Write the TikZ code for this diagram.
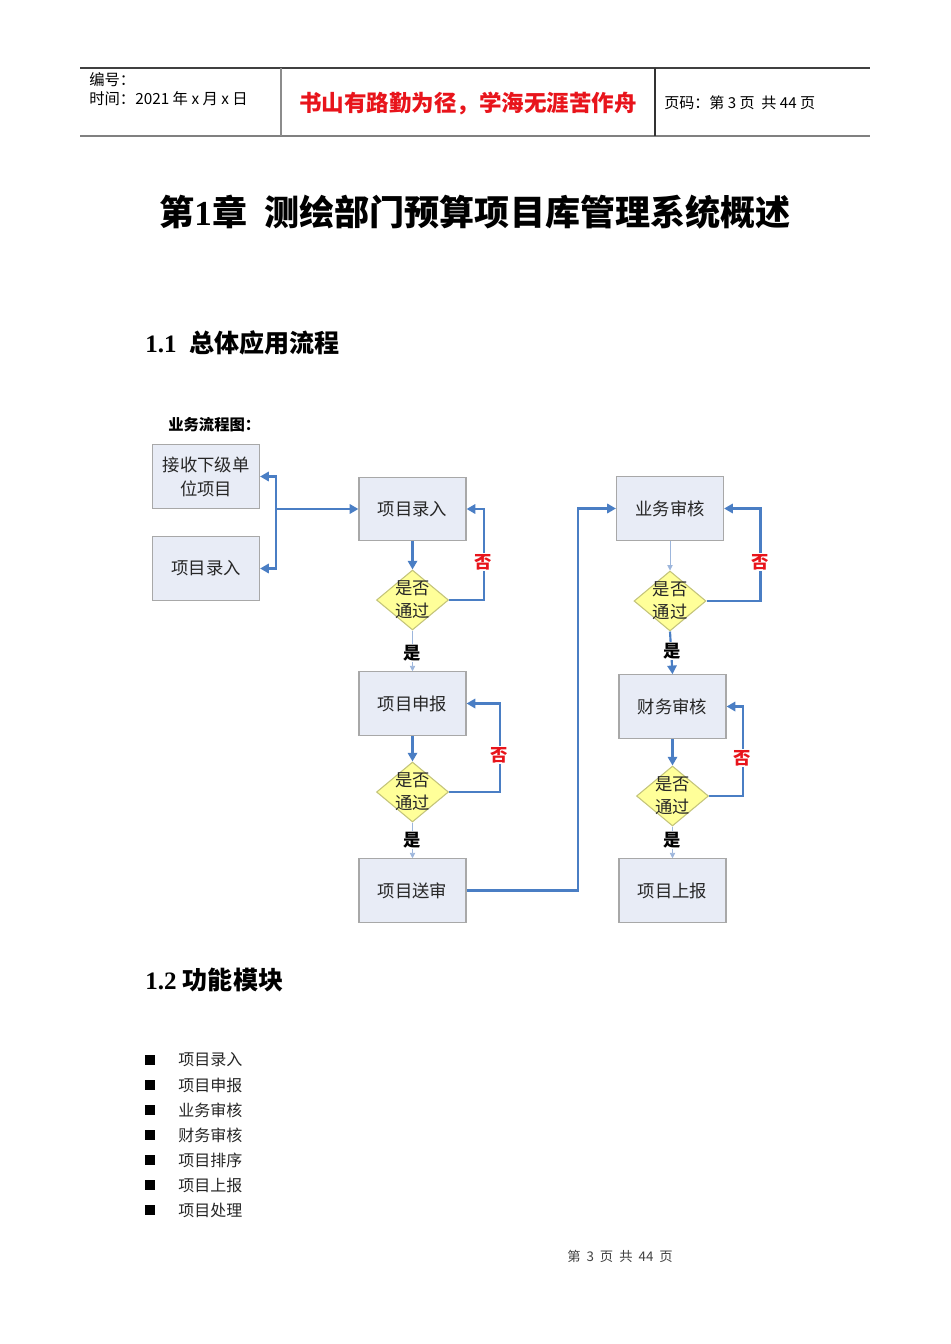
\documentclass[tikz,border=0pt]{standalone}
\usepackage{fontspec}
\setmainfont{Liberation Serif}
\newfontfamily\cjk{Noto Sans CJK SC}
\usetikzlibrary{shapes.geometric,arrows.meta}
\definecolor{boxfill}{HTML}{E8ECF6}
\definecolor{boxline}{HTML}{A8A8A8}
\definecolor{dfill}{HTML}{FFFF99}
\definecolor{dline}{HTML}{C4C47A}
\definecolor{flow}{HTML}{4A7EC4}
\definecolor{thinflow}{HTML}{9DB6DC}
\definecolor{redtxt}{HTML}{E8141B}
\tikzset{
  box/.style={draw=boxline, fill=boxfill, line width=0.9pt, minimum width=80.25pt, minimum height=47.5pt, inner sep=0pt, align=center, font=\cjk\fontsize{13}{18}\selectfont, text=black!85},
  dia/.style={draw=dline, fill=dfill, line width=0.8pt, shape=diamond, minimum width=54pt, minimum height=45pt, inner sep=0pt},
  dtext/.style={align=center, font=\cjk\fontsize{13}{17}\selectfont, text=black!85},
  arr/.style={draw=flow, line width=1.6pt, -{Triangle[width=7pt,length=6.5pt]}},
  thinarr/.style={draw=thinflow, line width=0.6pt, -{Triangle[width=4pt,length=4pt]}},
  nolab/.style={fill=white, inner sep=1pt, text=redtxt, font=\cjk\bfseries\fontsize{13}{15}\selectfont},
  yeslab/.style={fill=white, inner sep=1pt, text=black, font=\cjk\bfseries\fontsize{13}{15}\selectfont},
  bullettxt/.style={anchor=west, inner sep=0pt, font=\cjk\fontsize{12}{14}\selectfont, text=black!85},
  bsq/.style={fill=black, minimum size=7pt, inner sep=0pt}
}
\begin{document}
\begin{tikzpicture}[x=0.75pt,y=-0.75pt]
\useasboundingbox (0,0) rectangle (950,1344);
% header
\draw[black!75, line width=0.8pt] (80,68) coordinate (hl) -- (870,68) coordinate (hr);
\draw[black!50, line width=1.5pt] (80,136) coordinate (bl) -- (870,136) coordinate (br);
\draw[black!45, line width=1.4pt] (281,68) coordinate (v1t) -- (281,136) coordinate (v1b);
\draw[black!80, line width=0.8pt] (655,68) coordinate (v2t) -- (655,136) coordinate (v2b);
\node[anchor=west, inner sep=0pt, font=\cjk\fontsize{11.5}{13}\selectfont] (h1) at (89,80) {编号：};
\node[anchor=west, inner sep=0pt, font=\cjk\fontsize{11.5}{13}\selectfont] (h2) at (89,99) {时间：2021\ 年\ x\ 月\ x\ 日};
\node[inner sep=0pt, text=redtxt, font=\cjk\bfseries\fontsize{16.9}{19}\selectfont] (motto) at (468,104) {书山有路勤为径，学海无涯苦作舟};
\node[anchor=west, inner sep=0pt, font=\cjk\fontsize{11.3}{13}\selectfont] (h3) at (664,103) {页码：第\ 3\ 页\ \ 共\ 44\ 页};
% title
\node[inner sep=0pt, font=\bfseries\fontsize{26.3}{30}\selectfont] (title) at (475,212) {{\cjk 第}1{\cjk 章}\ \ {\cjk 测绘部门预算项目库管理系统概述}};
\node[anchor=west, inner sep=0pt, font=\bfseries\fontsize{18.8}{22}\selectfont] (s11) at (145,343) {1.1\ \ {\cjk 总体应用流程}};
\node[anchor=west, inner sep=0pt, font=\cjk\bfseries\fontsize{11.5}{14}\selectfont] (lbl) at (168,425) {业务流程图：};
% boxes
\node[box] (recv) at (206,476.5) {接收下级单\\位项目};
\node[box] (lentry) at (206,568.5) {项目录入};
\node[box] (entry) at (412.5,509) {项目录入};
\node[box] (decl) at (412.5,703.5) {项目申报};
\node[box] (send) at (412.5,890.5) {项目送审};
\node[box] (biz) at (670,508.5) {业务审核};
\node[box] (fin) at (672.5,706.5) {财务审核};
\node[box] (rep) at (672.5,890.5) {项目上报};
% diamonds
\node[dia] (d1) at (412.5,600) {};
\node[dtext] (t1) at (d1) {是否\\通过};
\node[dia] (d2) at (412.5,792) {};
\node[dtext] (t2) at (d2) {是否\\通过};
\node[dia] (d3) at (670,601) {};
\node[dtext] (t3) at (d3) {是否\\通过};
\node[dia] (d4) at (672.5,796) {};
\node[dtext] (t4) at (d4) {是否\\通过};
% left junction
\coordinate (jm) at (276,509);
\draw[arr] (jm) |- (recv.east);
\draw[arr] (jm) |- (lentry.east);
\draw[arr] (jm) -- (entry.west);
% column 1
\draw[arr] (entry.south) -- (d1.north);
\draw[arr] (d1.east) -- ++(35,0) |- (entry.east);
\node[nolab] (n1) at (483,562) {否};
\draw[thinarr] (d1.south) -- (decl.north);
\node[yeslab] (y1) at (412.5,653) {是};
\draw[arr] (decl.south) -- (d2.north);
\draw[arr] (d2.east) -- ++(51,0) |- (decl.east);
\node[nolab] (n2) at (499,755) {否};
\draw[thinarr] (d2.south) -- (send.north);
\node[yeslab] (y2) at (412.5,840) {是};
\draw[arr] (send.east) -- ++(111,0) |- (biz.west);
% column 2
\draw[thinarr] (biz.south) -- (d3.north);
\draw[arr] (d3.east) -- ++(54,0) |- (biz.east);
\node[nolab] (n3) at (760,562) {否};
\draw[arr] (d3.south) -- (fin.north);
\node[yeslab] (y3) at (672.5,651) {是};
\draw[arr] (fin.south) -- (d4.north);
\draw[arr] (d4.east) -- ++(34,0) |- (fin.east);
\node[nolab] (n4) at (742,758) {否};
\draw[thinarr] (d4.south) -- (rep.north);
\node[yeslab] (y4) at (672.5,840) {是};
% section 1.2
\node[anchor=west, inner sep=0pt, font=\bfseries\fontsize{18.8}{22}\selectfont] (s12) at (145,980) {1.2 {\cjk 功能模块}};
\foreach \t [count=\i from 0] in {项目录入,项目申报,业务审核,财务审核,项目排序,项目上报,项目处理} {
  \node[bsq] (sq\i) at (150,1060+25*\i) {};
  \node[bullettxt] (bt\i) at (178,1060+25*\i) {\t};
}
% footer
\node[inner sep=0pt, text=black!75, font=\cjk\fontsize{10}{12}\selectfont] (foot) at (620,1256) {第\ \ 3\ \ 页\ \ 共\ \ 44\ \ 页};
\end{tikzpicture}
\end{document}
